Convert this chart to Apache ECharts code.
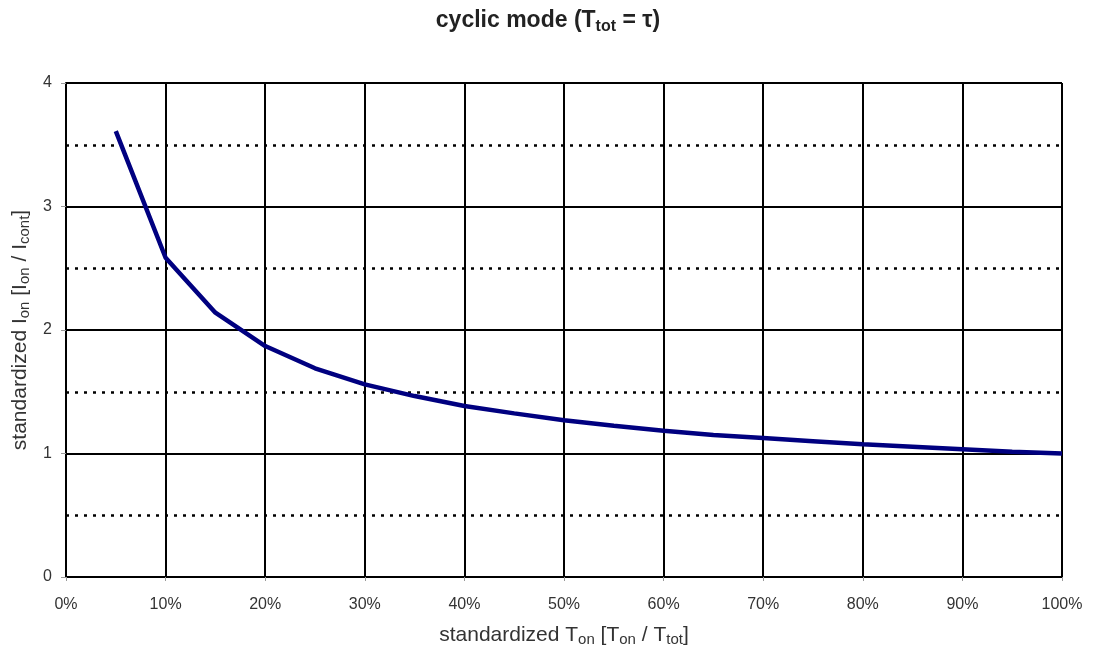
<!DOCTYPE html>
<html>
<head>
<meta charset="utf-8">
<script src="https://cdn.jsdelivr.net/npm/echarts@6/dist/echarts.min.js"></script>
<style>
  html, body { margin: 0; padding: 0; background: #fff; }
  #chart { width: 1096px; height: 649px; }
</style>
</head>
<body>
<div id="chart"></div>
<script>
// duty cycle in % (x) and standardized current (y)
var tonPercent = [5, 10, 15, 20, 25, 30, 35, 40, 45, 50, 55, 60, 65, 70, 75, 80, 85, 90, 95, 100];
var ionRatio = [3.61, 2.585, 2.14, 1.87, 1.69, 1.56, 1.465, 1.385, 1.325, 1.27, 1.225, 1.185, 1.15, 1.125, 1.1, 1.075, 1.055, 1.035, 1.015, 1.0];

var myChart = echarts.init(document.getElementById("chart"));
var font = "Liberation Sans, Arial, sans-serif";

myChart.setOption({
  animation: false,
  title: {
    text: "{a|cyclic mode (T}{s|tot}{a| = τ)}",
    left: "center",
    top: 2,
    textStyle: {
      rich: {
        a: { fontFamily: font, fontWeight: "bold", fontSize: 23, color: "#222" },
        s: { fontFamily: font, fontWeight: "bold", fontSize: 16, color: "#222", padding: [12, 0, 0, 0] }
      }
    }
  },
  grid: { left: 66, right: 34, top: 83, bottom: 72, outerBoundsMode: "none" },
  xAxis: {
    type: "value",
    min: 0,
    max: 100,
    interval: 10,
    name: "{a|standardized T}{s|on}{a| [T}{s|on}{a| / T}{s|tot}{a|]}",
    nameLocation: "middle",
    nameGap: 46,
    nameTextStyle: {
      rich: {
        a: { fontFamily: font, fontSize: 21, color: "#333" },
        s: { fontFamily: font, fontSize: 15, color: "#333", padding: [9, 0, 0, 0] }
      }
    },
    axisLine: { show: true, lineStyle: { color: "#000", width: 2 } },
    axisTick: { show: true, length: 4, lineStyle: { color: "#999" } },
    axisLabel: { formatter: "{value}%", fontFamily: font, fontSize: 16, color: "#333", margin: 20 },
    splitLine: { show: true, lineStyle: { color: "#000", width: 2 } }
  },
  yAxis: {
    type: "value",
    min: 0,
    max: 4,
    interval: 1,
    name: "{a|standardized I}{s|on}{a| [I}{s|on}{a| / I}{s|cont}{a|]}",
    nameLocation: "middle",
    nameGap: 29,
    nameRotate: 90,
    nameTextStyle: {
      rich: {
        a: { fontFamily: font, fontSize: 21, color: "#333" },
        s: { fontFamily: font, fontSize: 15, color: "#333", padding: [9, 0, 0, 0] }
      }
    },
    axisLine: { show: true, lineStyle: { color: "#000", width: 2 } },
    axisTick: { show: true, length: 5, lineStyle: { color: "#999" } },
    axisLabel: { fontFamily: font, fontSize: 16, color: "#333", margin: 14 },
    splitLine: { show: true, lineStyle: { color: "#000", width: 2 } },
    minorTick: { show: false, splitNumber: 2 },
    minorSplitLine: { show: true, lineStyle: { color: "#000", width: 2.5, type: [3, 6] } }
  },
  series: [{
    type: "line",
    data: tonPercent.map(function (x, i) { return [x, ionRatio[i]]; }),
    showSymbol: false,
    lineStyle: { color: "#000080", width: 4.5 },
    itemStyle: { color: "#000080" }
  }]
});
</script>
</body>
</html>
